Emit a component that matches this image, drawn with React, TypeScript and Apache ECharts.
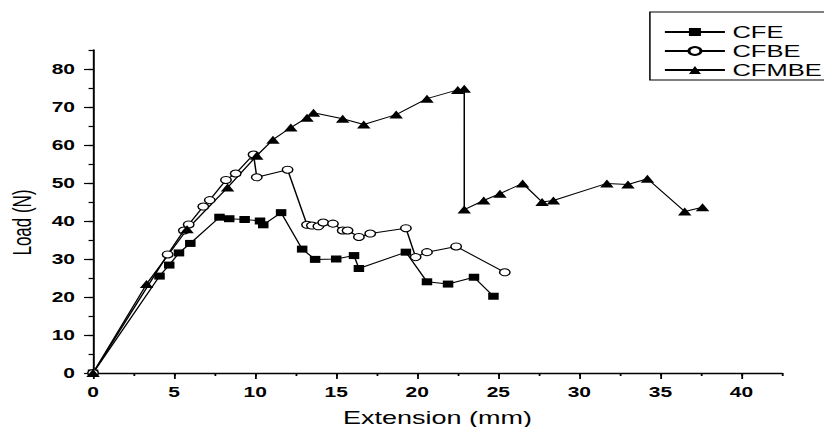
import React, { useEffect, useRef } from "react";
import * as echarts from "echarts";

const seriesNames = ["CFE", "CFBE", "CFMBE"];

const cfe: [number, number][] = [
  [0, 0], [4.1, 25.5], [4.7, 28.4], [5.3, 31.6], [6.0, 34.1], [7.8, 41.0], [8.4, 40.6],
  [9.35, 40.4], [10.3, 40.0], [10.5, 39.0], [11.6, 42.2], [12.9, 32.6], [13.7, 29.9],
  [15.0, 30.0], [16.1, 30.9], [16.4, 27.5], [19.3, 31.8], [20.6, 24.0], [21.9, 23.4],
  [23.5, 25.2], [24.7, 20.2],
];

const cfbe: [number, number][] = [
  [0, 0], [4.6, 31.2], [5.6, 37.5], [5.9, 39.1], [6.8, 43.8], [7.2, 45.5], [8.2, 50.8],
  [8.8, 52.5], [9.9, 57.5], [10.1, 51.5], [12.0, 53.5], [13.2, 39.0], [13.5, 38.8],
  [13.9, 38.6], [14.2, 39.6], [14.8, 39.3], [15.4, 37.5], [15.7, 37.5], [16.4, 35.8],
  [17.1, 36.7], [19.3, 38.1], [19.9, 30.5], [20.6, 31.8], [22.4, 33.3], [25.4, 26.5],
];

const cfmbe: [number, number][] = [
  [0, 0], [3.3, 23.4], [5.8, 37.8], [8.3, 48.8], [10.1, 57.2], [11.1, 61.4], [12.2, 64.6],
  [13.2, 67.2], [13.6, 68.5], [15.4, 66.9], [16.7, 65.4], [18.7, 68.0], [20.6, 72.2],
  [22.5, 74.5], [22.9, 74.8], [22.9, 43.0], [24.1, 45.4], [25.1, 47.2], [26.5, 49.9],
  [27.7, 45.0], [28.4, 45.4], [31.7, 49.9], [33.0, 49.6], [34.2, 51.1], [36.5, 42.5],
  [37.6, 43.6],
];

const xTickLabels = [0, 5, 10, 15, 20, 25, 30, 35, 40];
const yTickLabels = [0, 10, 20, 30, 40, 50, 60, 70, 80];
const xMax = 42.5;
const yMax = 85;

const STRETCH = 1.5;
const W = 824;
const H = 427;
const innerW = Math.round(W / STRETCH);

export default function App() {
  const ref = useRef<HTMLDivElement>(null);
  useEffect(() => {
    if (!ref.current) return;
    const chart = echarts.init(ref.current, null, { renderer: "svg" });
    const font = "'Liberation Sans', Arial, sans-serif";
    const lineCommon = {
      type: "line",
      xAxisIndex: 0,
      yAxisIndex: 0,
      lineStyle: { color: "#000", width: 1 },
      emphasis: { disabled: true },
    };
    chart.setOption({
      animation: false,
      backgroundColor: "#fff",
      grid: { left: 62, right: 28, top: 50, bottom: 54, outerBoundsMode: "none", containLabel: false },
      legend: {
        orient: "vertical",
        left: 433,
        top: 12,
        data: seriesNames,
        itemWidth: 40,
        itemHeight: 10,
        itemGap: 1,
        padding: [11, 20, 1, 9],
        borderColor: "#000",
        borderWidth: 1,
        textStyle: { fontFamily: font, fontSize: 17, color: "#000", lineHeight: 18 },
        selectedMode: false,
      },
      xAxis: [
        {
          type: "value",
          min: 0,
          max: xMax,
          interval: 5,
          position: "bottom",
          name: "Extension (mm)",
          nameLocation: "middle",
          nameGap: 36,
          nameTextStyle: { fontFamily: font, fontSize: 18, color: "#000" },
          axisLine: { show: true, onZero: false, lineStyle: { color: "#000", width: 1.3 } },
          axisTick: { show: true, length: 6, customValues: xTickLabels, lineStyle: { color: "#000", width: 1.2 } },
          axisLabel: {
            customValues: xTickLabels,
            margin: 12,
            fontFamily: font,
            fontWeight: "bold",
            fontSize: 14,
            color: "#000",
          },
          splitLine: { show: false },
        },
        {
          type: "value",
          min: 0,
          max: xMax,
          interval: 2.5,
          position: "bottom",
          axisLine: { show: false },
          axisTick: { show: true, length: 3, lineStyle: { color: "#000", width: 1.2 } },
          axisLabel: { show: false },
          splitLine: { show: false },
        },
      ],
      yAxis: [
        {
          type: "value",
          min: 0,
          max: yMax,
          interval: 10,
          position: "left",
          name: "Load (N)",
          nameLocation: "middle",
          nameRotate: 90,
          nameGap: 37,
          nameTextStyle: { fontFamily: font, fontSize: 17, color: "#000", padding: [0, 22, 0, 0] },
          axisLine: { show: true, onZero: false, lineStyle: { color: "#000", width: 1.3 } },
          axisTick: { show: true, length: 6, customValues: yTickLabels, lineStyle: { color: "#000", width: 1.2 } },
          axisLabel: {
            customValues: yTickLabels,
            margin: 12,
            fontFamily: font,
            fontWeight: "bold",
            fontSize: 14,
            color: "#000",
          },
          splitLine: { show: false },
        },
        {
          type: "value",
          min: 0,
          max: yMax,
          interval: 5,
          position: "left",
          axisLine: { show: false },
          axisTick: { show: true, length: 3, lineStyle: { color: "#000", width: 1.2 } },
          axisLabel: { show: false },
          splitLine: { show: false },
        },
      ],
      series: [
        {
          ...lineCommon,
          name: seriesNames[0],
          data: cfe,
          symbol: "rect",
          symbolSize: 7,
          itemStyle: { color: "#000", borderColor: "#000", borderWidth: 0 },
        },
        {
          ...lineCommon,
          name: seriesNames[1],
          data: cfbe,
          symbol: "circle",
          symbolSize: 7,
          itemStyle: { color: "#fff", borderColor: "#000", borderWidth: 1 },
        },
        {
          ...lineCommon,
          name: seriesNames[2],
          data: cfmbe,
          symbol: "triangle",
          symbolSize: [9, 8],
          itemStyle: { color: "#000", borderColor: "#000", borderWidth: 0 },
        },
      ],
    });
    return () => chart.dispose();
  }, []);

  return (
    <div
      style={{
        position: "fixed",
        left: 0,
        top: 0,
        width: W,
        height: H,
        overflow: "hidden",
        background: "#fff",
      }}
    >
      <div
        ref={ref}
        style={{
          width: innerW,
          height: H,
          transform: `scaleX(${W / innerW})`,
          transformOrigin: "0 0",
        }}
      />
    </div>
  );
}
